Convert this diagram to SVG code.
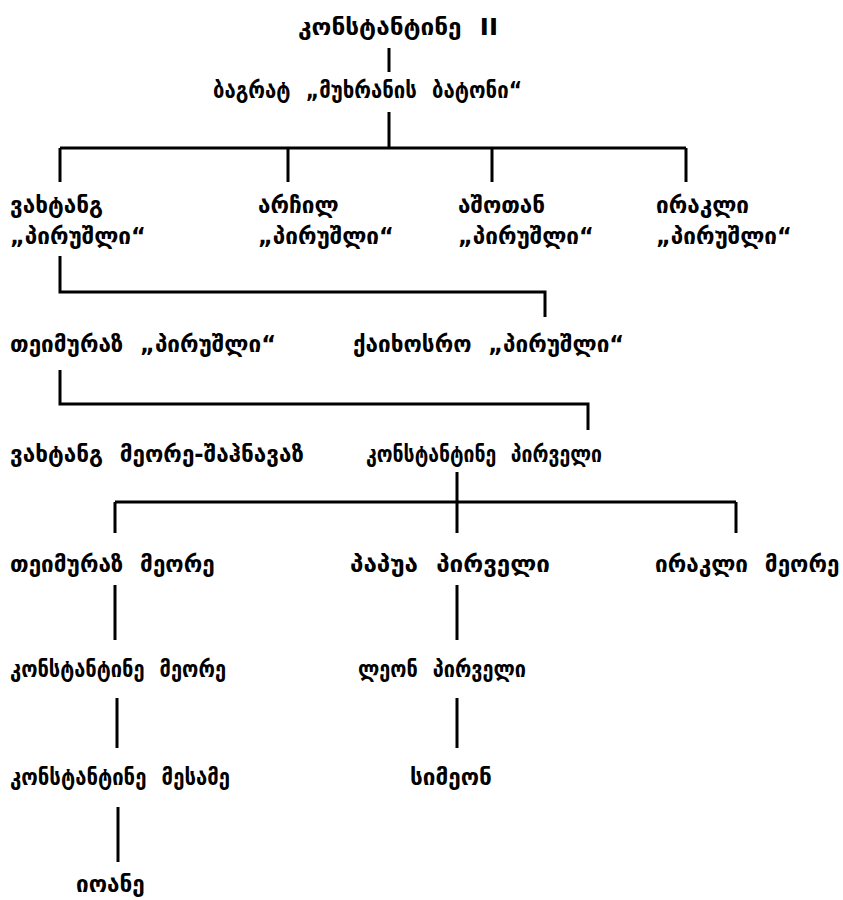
<svg xmlns="http://www.w3.org/2000/svg" width="843" height="900" viewBox="0 0 843 900">
<style>
text{font-family:"DejaVu Sans","Noto Sans",sans-serif;font-size:22.5px;font-weight:bold;fill:#000;word-spacing:9px}
.c{stroke:#000;stroke-width:3;fill:none}
</style>
<rect width="843" height="900" fill="#fff"/>
<g id="connectors" class="c">
<path d="M389 48V72"/>
<path d="M389 112V148M60 148H686M60 148V182M288 148V182M492 148V182M686 148V182"/>
<path d="M60 256V292H545V317"/>
<path d="M60 370V404H588V430"/>
<path d="M457 472V533M115 502H736M115 502V533M736 502V533"/>
<path d="M115 585V640M457 585V640"/>
<path d="M117 698V748M457 698V748"/>
<path d="M118 807V862"/>
</g>
<g id="n1"><text x="298" y="35" textLength="200" lengthAdjust="spacingAndGlyphs">კონსტანტინე II</text></g>
<g id="n2"><text x="213" y="98" textLength="309" lengthAdjust="spacingAndGlyphs">ბაგრატ „მუხრანის ბატონი“</text></g>
<g id="n3"><text x="10" y="213">ვახტანგ</text><text x="10" y="244">„პირუშლი“</text></g>
<g id="n4"><text x="258" y="213">არჩილ</text><text x="258" y="244">„პირუშლი“</text></g>
<g id="n5"><text x="458" y="213">აშოთან</text><text x="458" y="244">„პირუშლი“</text></g>
<g id="n6"><text x="656" y="213">ირაკლი</text><text x="656" y="244">„პირუშლი“</text></g>
<g id="n7"><text x="10" y="352">თეიმურაზ „პირუშლი“</text></g>
<g id="n8"><text x="353" y="352">ქაიხოსრო „პირუშლი“</text></g>
<g id="n9"><text x="10" y="462">ვახტანგ მეორე-შაჰნავაზ</text></g>
<g id="n10"><text x="366" y="462" textLength="236" lengthAdjust="spacingAndGlyphs">კონსტანტინე პირველი</text></g>
<g id="n11"><text x="10" y="572">თეიმურაზ მეორე</text></g>
<g id="n12"><text x="350" y="572" textLength="200" lengthAdjust="spacingAndGlyphs">პაპუა პირველი</text></g>
<g id="n13"><text x="655" y="572">ირაკლი მეორე</text></g>
<g id="n14"><text x="10" y="677" textLength="216" lengthAdjust="spacingAndGlyphs">კონსტანტინე მეორე</text></g>
<g id="n15"><text x="358" y="677" textLength="168" lengthAdjust="spacingAndGlyphs">ლეონ პირველი</text></g>
<g id="n16"><text x="10" y="785" textLength="220" lengthAdjust="spacingAndGlyphs">კონსტანტინე მესამე</text></g>
<g id="n17"><text x="410" y="785">სიმეონ</text></g>
<g id="n18"><text x="76" y="892">იოანე</text></g>
</svg>
